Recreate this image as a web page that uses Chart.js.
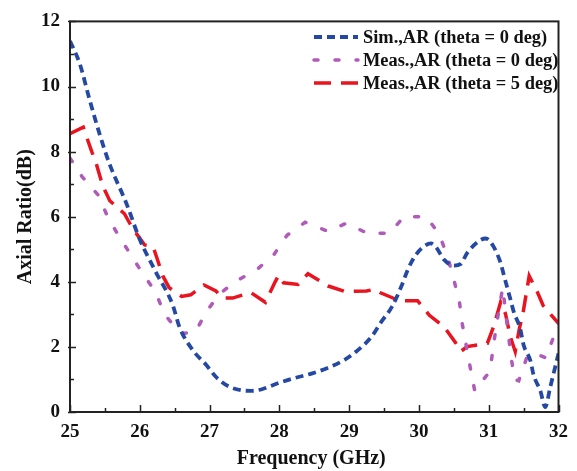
<!DOCTYPE html>
<html>
<head>
<meta charset="utf-8">
<script src="https://cdn.jsdelivr.net/npm/chart.js@4.4.1/dist/chart.umd.min.js"></script>
<style>
  html, body { margin: 0; padding: 0; background: #fff; }
  #wrap { width: 577px; height: 471px; position: relative; }
</style>
</head>
<body>
<div id="wrap"><canvas id="c" width="577" height="471"></canvas></div>
<script>
// Axial ratio vs frequency: simulated and measured curves
const xTickValues = [25, 26, 27, 28, 29, 30, 31, 32];
const yTickValues = [0, 2, 4, 6, 8, 10, 12];

const simFreq = [25.0, 25.14, 25.28, 25.43, 25.57, 25.81, 26.0, 26.23, 26.47, 26.57, 26.76, 26.95, 27.1, 27.28, 27.45, 27.6, 27.75, 28.0, 28.23, 28.46, 28.7, 28.94, 29.13, 29.32, 29.46, 29.61, 29.75, 29.84, 29.94, 30.05, 30.17, 30.24, 30.36, 30.5, 30.6, 30.69, 30.88, 30.96, 31.07, 31.17, 31.22, 31.31, 31.36, 31.45, 31.5, 31.6, 31.64, 31.74, 31.81, 31.88, 31.95, 32.0];
const simAR = [11.4, 10.7, 9.6, 8.5, 7.6, 6.4, 5.3, 4.3, 3.3, 2.6, 1.9, 1.45, 1.06, 0.78, 0.67, 0.65, 0.7, 0.9, 1.05, 1.18, 1.36, 1.61, 1.91, 2.31, 2.77, 3.22, 3.87, 4.37, 4.78, 5.05, 5.18, 5.08, 4.68, 4.5, 4.55, 4.88, 5.28, 5.33, 5.08, 4.58, 4.18, 3.47, 3.07, 2.57, 2.06, 1.56, 1.16, 0.65, 0.15, 0.75, 1.36, 1.8];

const meas0Freq = [25.0, 25.17, 25.41, 25.54, 25.69, 25.88, 26.02, 26.23, 26.35, 26.52, 26.61, 26.8, 26.95, 27.14, 27.37, 27.68, 27.92, 28.11, 28.37, 28.7, 28.96, 29.27, 29.58, 29.79, 30.11, 30.29, 30.41, 30.5, 30.58, 30.62, 30.74, 30.8, 31.02, 31.06, 31.11, 31.16, 31.2, 31.28, 31.32, 31.37, 31.43, 31.54, 31.65, 31.82, 31.93, 32.0];
const meas0AR = [7.8, 7.24, 6.65, 5.99, 5.44, 4.8, 4.33, 3.67, 3.02, 2.56, 2.41, 2.47, 3.07, 3.62, 4.01, 4.38, 4.83, 5.43, 5.83, 5.55, 5.8, 5.48, 5.5, 6.01, 5.99, 5.46, 4.78, 4.07, 3.39, 2.72, 1.31, 0.65, 1.26, 1.94, 2.65, 3.32, 3.82, 2.41, 1.71, 1.0, 0.96, 1.64, 1.81, 1.66, 2.31, 2.72];

const meas5Freq = [25.0, 25.19, 25.3, 25.38, 25.47, 25.57, 25.78, 25.9, 26.07, 26.19, 26.23, 26.33, 26.42, 26.6, 26.73, 26.92, 27.09, 27.18, 27.33, 27.59, 27.8, 27.94, 27.99, 28.06, 28.27, 28.41, 28.7, 28.94, 29.25, 29.37, 29.44, 29.72, 29.98, 30.15, 30.36, 30.53, 30.6, 30.69, 30.98, 31.07, 31.17, 31.24, 31.31, 31.38, 31.44, 31.49, 31.58, 31.7, 31.78, 32.0];
const meas5AR = [8.55, 8.75, 8.07, 7.6, 6.94, 6.49, 6.09, 5.63, 5.13, 5.08, 4.83, 4.18, 3.82, 3.55, 3.6, 3.9, 3.72, 3.5, 3.5, 3.67, 3.37, 4.0, 4.2, 3.97, 3.92, 4.25, 3.87, 3.7, 3.72, 3.77, 3.67, 3.42, 3.42, 2.97, 2.62, 2.11, 1.86, 2.01, 2.11, 2.62, 3.37, 3.02, 2.31, 1.86, 2.57, 3.02, 4.18, 3.67, 3.27, 2.72];

const seriesNames = ['Sim.,AR (theta = 0 deg)', 'Meas.,AR (theta = 0 deg)', 'Meas.,AR (theta = 5 deg)'];
const xTitle = 'Frequency (GHz)';
const yTitle = 'Axial Ratio(dB)';

const toPoints = (xs, ys) => xs.map((x, i) => ({ x: x, y: ys[i] }));

const SERIF = '"Liberation Serif", "DejaVu Serif", serif';

// frame, inward tick marks, axis titles and the in-plot legend
const decorations = {
  id: 'decorations',
  afterDraw(chart) {
    const ctx = chart.ctx;
    const a = chart.chartArea;
    const xs = chart.scales.x, ys = chart.scales.y;
    ctx.save();
    ctx.strokeStyle = '#222';
    ctx.lineWidth = 2;
    ctx.setLineDash([]);
    ctx.strokeRect(a.left, a.top, a.right - a.left, a.bottom - a.top);

    ctx.lineWidth = 1.5;
    ctx.beginPath();
    for (let v = 25; v <= 32; v += 0.5) {
      const px = Math.round(xs.getPixelForValue(v)) + 0.5;
      const len = Number.isInteger(v) ? 7 : 4;
      ctx.moveTo(px, a.bottom);
      ctx.lineTo(px, a.bottom - len);
    }
    for (let v = 0; v <= 12; v += 1) {
      const py = Math.round(ys.getPixelForValue(v)) + 0.5;
      const len = v % 2 === 0 ? 6 : 4;
      ctx.moveTo(a.left - (v % 2 === 0 ? 2 : 0), py);
      ctx.lineTo(a.left + len, py);
    }
    ctx.stroke();

    ctx.fillStyle = '#111';
    ctx.font = 'bold 20px ' + SERIF;
    ctx.textAlign = 'center';
    ctx.textBaseline = 'middle';
    ctx.fillText(xTitle, (a.left + a.right) / 2 - 3, 459);
    ctx.save();
    ctx.translate(26, (a.top + a.bottom) / 2);
    ctx.rotate(-Math.PI / 2);
    ctx.fillText(yTitle, 0, 0);
    ctx.restore();

    const rows = [37, 60, 83];
    ctx.font = 'bold 18.4px ' + SERIF;
    ctx.textAlign = 'left';
    chart.data.datasets.forEach((ds, i) => {
      const y = rows[i];
      ctx.save();
      ctx.strokeStyle = ds.borderColor;
      ctx.lineWidth = ds.borderWidth;
      ctx.lineCap = ds.borderCapStyle || 'butt';
      ctx.setLineDash(ds.borderDash || []);
      ctx.beginPath();
      ctx.moveTo(314, y);
      ctx.lineTo(358, y);
      ctx.stroke();
      ctx.restore();
      ctx.fillStyle = '#111';
      ctx.fillText(ds.label, 363, y + 1);
    });
    ctx.restore();
  }
};

new Chart(document.getElementById('c'), {
  type: 'scatter',
  data: {
    datasets: [
      {
        label: seriesNames[0],
        data: toPoints(simFreq, simAR),
        showLine: true,
        borderColor: '#2549a3',
        borderWidth: 3.8,
        borderDash: [8, 5],
        cubicInterpolationMode: 'monotone',
        pointRadius: 0
      },
      {
        label: seriesNames[1],
        data: toPoints(meas0Freq, meas0AR),
        showLine: true,
        borderColor: '#b05ab9',
        borderWidth: 3.5,
        borderDash: [4, 17],
        borderCapStyle: 'round',
        tension: 0,
        pointRadius: 0
      },
      {
        label: seriesNames[2],
        data: toPoints(meas5Freq, meas5AR),
        showLine: true,
        borderColor: '#e8141f',
        borderWidth: 3.5,
        borderDash: [17, 10],
        tension: 0,
        pointRadius: 0
      }
    ]
  },
  options: {
    responsive: false,
    animation: false,
    layout: { padding: { top: 14, right: 15, left: 0, bottom: 0 } },
    plugins: { legend: { display: false }, tooltip: { enabled: false } },
    scales: {
      x: {
        type: 'linear',
        min: 25, max: 32,
        afterFit(s) { s.height = 59; },
        afterBuildTicks(s) { s.ticks = xTickValues.map(v => ({ value: v })); },
        grid: { display: false, drawTicks: false },
        border: { display: false },
        ticks: {
          padding: 9,
          color: '#111',
          font: { family: SERIF, size: 19, weight: 'bold' }
        }
      },
      y: {
        type: 'linear',
        min: 0, max: 12,
        afterFit(s) { s.width = 70; },
        afterBuildTicks(s) { s.ticks = yTickValues.map(v => ({ value: v })); },
        grid: { display: false, drawTicks: false },
        border: { display: false },
        ticks: {
          padding: 10,
          color: '#111',
          font: { family: SERIF, size: 19, weight: 'bold' }
        }
      }
    }
  },
  plugins: [decorations]
});
</script>
</body>
</html>
